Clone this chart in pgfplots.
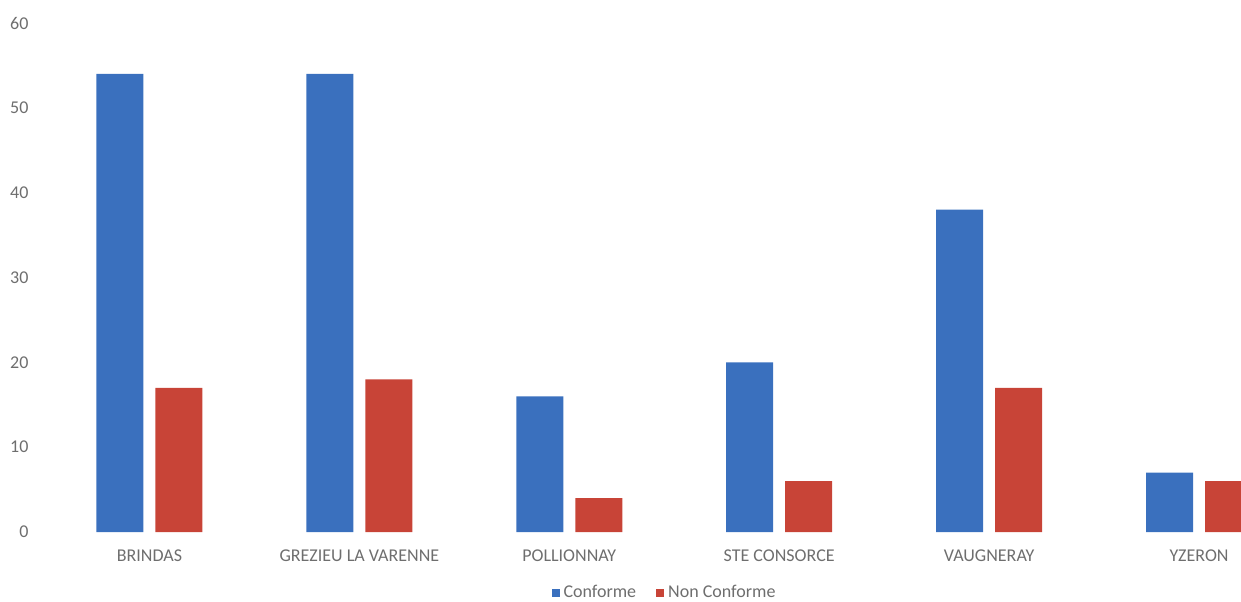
\documentclass[border=0pt]{standalone}
\usepackage{pgfplots}
\pgfplotsset{compat=1.18}
\usepackage{fontspec}
\setmainfont{Carlito}
\definecolor{cblue}{RGB}{58,112,190}
\definecolor{cred}{RGB}{200,68,55}
\definecolor{ctext}{RGB}{110,110,110}
\begin{document}
\begin{tikzpicture}
\begin{axis}[
  at={(22.25pt,34.5pt)}, anchor=south west,
  scale only axis,
  width=598.25pt, height=254.5pt,
  xmin=-0.5, xmax=5.2, ymin=0, ymax=60,
  clip=true,
  ybar, bar width=23.5pt,
  xtick={0,1,2,3,4,5},
  xticklabels={BRINDAS,GREZIEU LA VARENNE,POLLIONNAY,STE CONSORCE,VAUGNERAY,YZERON},
  ytick={0,10,...,60},
  axis line style={draw=none},
  major tick length=0pt,
  tick style={draw=none},
  /pgf/number format/assume math mode=true,
  ticklabel style={font=\fontsize{9}{10}\selectfont, text=ctext},
  xticklabel style={yshift=-5.5pt},
  yticklabel style={xshift=-4.5pt},
  legend style={at={(0.519,-0.12)}, anchor=center, draw=none, fill=none,
    legend columns=2, font=\fontsize{9}{10}\selectfont\color{ctext},
    /tikz/every even column/.append style={column sep=8pt}},
  legend image code/.code={\fill[#1] (0pt,-2pt) rectangle (4pt,2pt);},
]
\addplot[fill=cblue, draw=none, bar shift=-14.75pt] coordinates {(0,54) (1,54) (2,16) (3,20) (4,38) (5,7)};
\addlegendentry{Conforme}
\addplot[fill=cred, draw=none, bar shift=14.75pt] coordinates {(0,17) (1,18) (2,4) (3,6) (4,17) (5,6)};
\addlegendentry{Non Conforme}
\end{axis}
\pgfresetboundingbox
\useasboundingbox (0,0) rectangle (620.5pt,300.5pt);
\end{tikzpicture}
\end{document}
